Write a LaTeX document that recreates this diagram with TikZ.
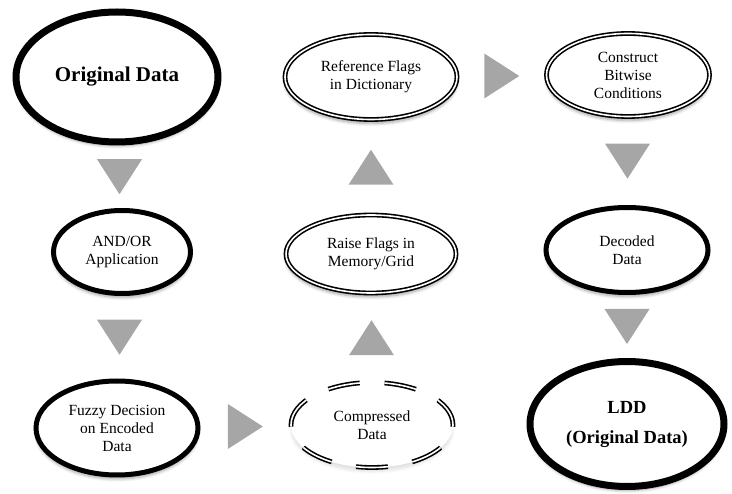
\documentclass[tikz,border=0pt]{standalone}
\usepackage{fontspec}
\setmainfont{Liberation Serif}
\usetikzlibrary{shapes.geometric,calc,shadows.blur}

\definecolor{arrowgray}{HTML}{A6A6A6}

\tikzset{
  % soft shadow under every oval
  soft shadow/.style={blur shadow={shadow xshift=0pt, shadow yshift=-4pt,
      shadow blur steps=6, shadow opacity=#1, shadow blur radius=3pt}},
  soft shadow/.default=35,
  blob/.style={ellipse, inner sep=0pt, fill=white, draw=black, soft shadow,
      align=center, font=\fontsize{15.5}{18}\selectfont},
  heavy oval/.style={blob, line width=7pt},
  bold oval/.style={blob, line width=5pt},
  ring oval/.style={blob, double, line width=1.6pt, double distance=1.6pt},
  dashed ring/.style={ellipse, inner sep=0pt, fill=white, draw=black, soft shadow=12,
      align=center, font=\fontsize{15.5}{18}\selectfont,
      double, line width=1.6pt, double distance=1.6pt,
      dash pattern=on 32pt off 24.8pt, dash phase=2pt},
  big text/.style={font=\fontsize{21}{25}\selectfont\bfseries},
  % gray flow triangles
  down tri/.pic={\fill[arrowgray] (-22.5,-17.5) -- (22.5,-17.5) -- (0,17.5) -- cycle;},
  up tri/.pic={\fill[arrowgray] (-22.5,17.5) -- (22.5,17.5) -- (0,-17.5) -- cycle;},
  right tri/.pic={\fill[arrowgray] (-17.5,-22.5) -- (-17.5,22.5) -- (17.5,0) -- cycle;}
}

\begin{document}
\begin{tikzpicture}[x=1pt,y=-1pt]
\useasboundingbox (0,0) rectangle (732,494);

% left column
\node[heavy oval, minimum width=202pt, minimum height=130pt, big text] (orig) at (117,77) {Original Data};
\node[bold oval, minimum width=137pt, minimum height=83pt] (andor) at (122,252) {AND/OR\\Application};
\node[bold oval, minimum width=162pt, minimum height=94pt] (fuzzy) at (117,428) {Fuzzy Decision\\on Encoded\\Data};

% middle column
\node[dashed ring, minimum width=162pt, minimum height=85pt] (comp) at (372,425) {Compressed\\Data};
\node[ring oval, minimum width=170pt, minimum height=78pt] (raise) at (371,254) {Raise Flags in\\Memory/Grid};
\node[ring oval, minimum width=172pt, minimum height=85pt] (ref) at (371,77) {Reference Flags\\in Dictionary};

% right column
\node[ring oval, minimum width=163pt, minimum height=83pt] (cons) at (628,75) {Construct\\Bitwise\\Conditions};
\node[bold oval, minimum width=162pt, minimum height=85pt] (dec) at (627,250) {Decoded\\Data};
\node[heavy oval, minimum width=194pt, minimum height=125pt,
      font=\fontsize{18.5}{30}\selectfont\bfseries] (ldd) at (627,424) {LDD\\(Original Data)};

% flow triangles between the ovals
\path ($(orig.south)!0.5!(andor.north)$) pic {down tri};
\path ($(andor.south)!0.5!(fuzzy.north)$) pic {down tri};
\path ($(fuzzy.east)!0.5!(comp.west)$) pic {right tri};
\path ($(comp.north)!0.5!(raise.south)$) pic {up tri};
\path ($(raise.north)!0.5!(ref.south)$) pic {up tri};
\path ($(ref.east)!0.5!(cons.west)$) pic {right tri};
\path ($(cons.south)!0.5!(dec.north)$) pic {down tri};
\path ($(dec.south)!0.5!(ldd.north)$) pic {down tri};
\end{tikzpicture}
\end{document}
